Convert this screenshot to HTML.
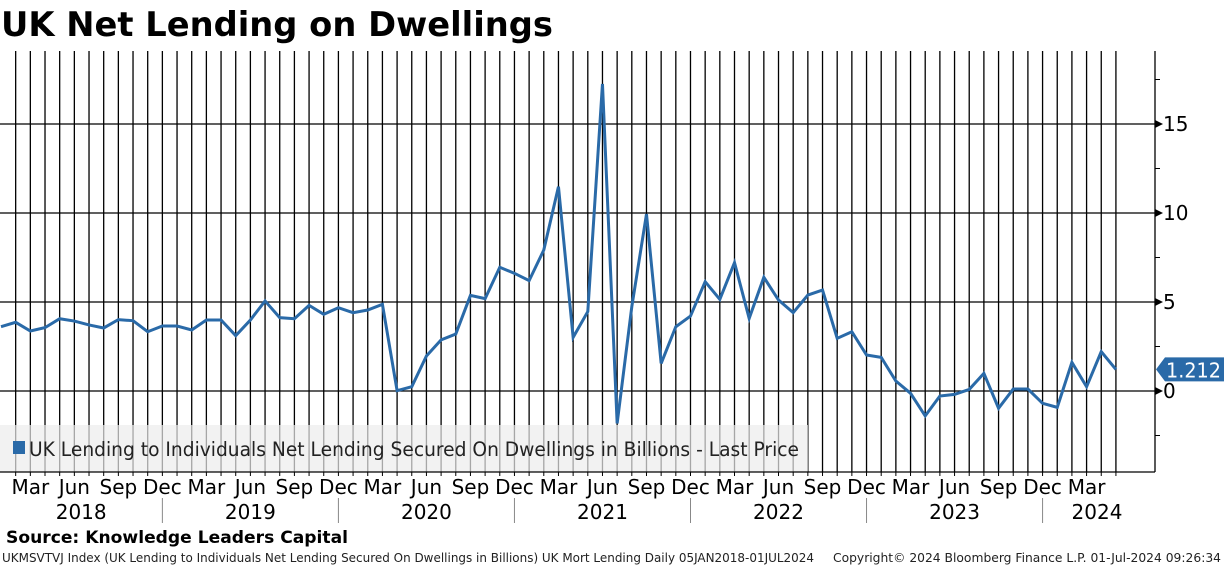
<!DOCTYPE html>
<html><head><meta charset="utf-8"><style>
body{margin:0;background:#fff;}
svg{display:block;font-family:"DejaVu Sans","Liberation Sans",sans-serif;}
</style></head><body>
<svg id="chart" width="1224" height="566" viewBox="0 0 1224 566">
<text x="1" y="36" font-size="34" font-weight="bold" textLength="552" lengthAdjust="spacingAndGlyphs">UK Net Lending on Dwellings</text>
<g id="grid"></g>
<rect x="0" y="425" width="808" height="47" fill="#ececec" fill-opacity="0.7"/>
<rect x="13" y="441" width="12" height="13" fill="#2a6aa8"/>
<text x="29" y="456" font-size="19.5" fill="#222" textLength="770" lengthAdjust="spacingAndGlyphs">UK Lending to Individuals Net Lending Secured On Dwellings in Billions - Last Price</text>
<g id="axes"></g>
<g id="series"></g>
<text x="6" y="543" font-size="17" font-weight="bold" textLength="342" lengthAdjust="spacingAndGlyphs">Source: Knowledge Leaders Capital</text>
<text x="2" y="562" font-size="12.5" fill="#222" textLength="812" lengthAdjust="spacingAndGlyphs">UKMSVTVJ Index (UK Lending to Individuals Net Lending Secured On Dwellings in Billions) UK Mort Lending  Daily 05JAN2018-01JUL2024</text>
<text x="833" y="562" font-size="12.5" fill="#222" textLength="388" lengthAdjust="spacingAndGlyphs">Copyright© 2024 Bloomberg Finance L.P.     01-Jul-2024 09:26:34</text>
</svg>
<script>
const values=[3.61,3.86,3.37,3.56,4.06,3.93,3.71,3.54,4.01,3.95,3.33,3.65,3.65,3.43,3.99,3.99,3.11,3.99,5.06,4.12,4.06,4.81,4.31,4.68,4.40,4.55,4.87,0.02,0.24,1.97,2.87,3.2,5.37,5.19,6.95,6.61,6.2,7.92,11.48,3.01,4.46,17.25,-1.82,4.74,9.94,1.55,3.61,4.21,6.14,5.15,7.21,4.08,6.39,5.11,4.4,5.39,5.67,2.96,3.33,2.02,1.89,0.56,-0.13,-1.40,-0.28,-0.19,0.09,0.99,-0.97,0.11,0.11,-0.69,-0.92,1.61,0.24,2.21,1.212];
const yTicks=[0,5,10,15];
const monthNames=["Mar","Jun","Sep","Dec"];
const years=["2018","2019","2020","2021","2022","2023","2024"];
const lastLabel="1.212";
const NS="http://www.w3.org/2000/svg";
const X0=1,DX=14.67,Y0=391,DY=17.8,TOP=51,BOT=472,RX=1155;
const xs=i=>X0+i*DX, ys=v=>Y0-v*DY;
function mk(tag,attrs,parent){const e=document.createElementNS(NS,tag);for(const k in attrs)e.setAttribute(k,attrs[k]);parent.appendChild(e);return e;}
const grid=document.getElementById('grid'),axes=document.getElementById('axes'),series=document.getElementById('series');
for(let i=1;i<values.length;i++){
  const l=mk('line',{x1:xs(i),x2:xs(i),y1:TOP,y2:BOT,stroke:'#000','stroke-width':1.3},grid);
  
  
  const t=mk('line',{x1:xs(i),x2:xs(i),y1:BOT,y2:BOT+4,stroke:'#000','stroke-width':1},axes);
  
  
}
yTicks.forEach(v=>{
  const l=mk('line',{x1:0,x2:RX,y1:ys(v),y2:ys(v),stroke:'#000','stroke-width':1.3},grid);
  
  
  const a=mk('path',{d:`M${RX},${ys(v)-4} L${RX+8},${ys(v)} L${RX},${ys(v)+4}Z`,fill:'#000'},axes);
  
  
  const t=mk('text',{x:RX+8,y:ys(v)+7,'font-size':20,fill:'#000'},axes);
  t.textContent=v;
  
  
});
[-2.5,2.5,7.5,12.5,17.5].forEach(v=>{
  const m=mk('line',{x1:RX,x2:RX+5,y1:ys(v),y2:ys(v),stroke:'#000','stroke-width':1},axes);
  
  
});
const ax=mk('line',{x1:RX,x2:RX,y1:TOP,y2:BOT,stroke:'#000','stroke-width':1.3},axes);


const bx=mk('line',{x1:0,x2:RX,y1:BOT,y2:BOT,stroke:'#000','stroke-width':1.3},axes);


for(let i=2;i<values.length;i+=3){
  const t=mk('text',{x:xs(i),y:494,'font-size':20,'text-anchor':'middle',fill:'#000'},axes);
  t.textContent=monthNames[((i-2)/3)%4];
  
  
}
years.forEach((y,k)=>{
  const s=xs(12*k-1), e=Math.min(xs(12*k+11),xs(values.length-1));
  const t=mk('text',{x:k==6?1097:(Math.max(s,0)+e)/2,y:519,'font-size':20,'text-anchor':'middle',fill:'#000'},axes);
  t.textContent=y;
  
  
  if(k<6){const l=mk('line',{x1:xs(12*k+11),x2:xs(12*k+11),y1:498,y2:523,stroke:'#888','stroke-width':1},axes);
  
  }
});
const p=mk('polyline',{points:values.map((v,i)=>xs(i)+','+ys(v)).join(' '),fill:'none',stroke:'#2a6aa8','stroke-width':3,'stroke-linejoin':'miter'},series);


const ly=ys(values[values.length-1]);
const tag=mk('path',{d:`M1156,${ly} L1165,${ly-12} L1224,${ly-12} L1224,${ly+12} L1165,${ly+12}Z`,fill:'#2a6aa8'},series);


const lt=mk('text',{x:1166,y:ly+8,'font-size':20,fill:'#fff',textLength:55,lengthAdjust:'spacingAndGlyphs'},series);
lt.textContent=lastLabel;


</script>
</body></html>
